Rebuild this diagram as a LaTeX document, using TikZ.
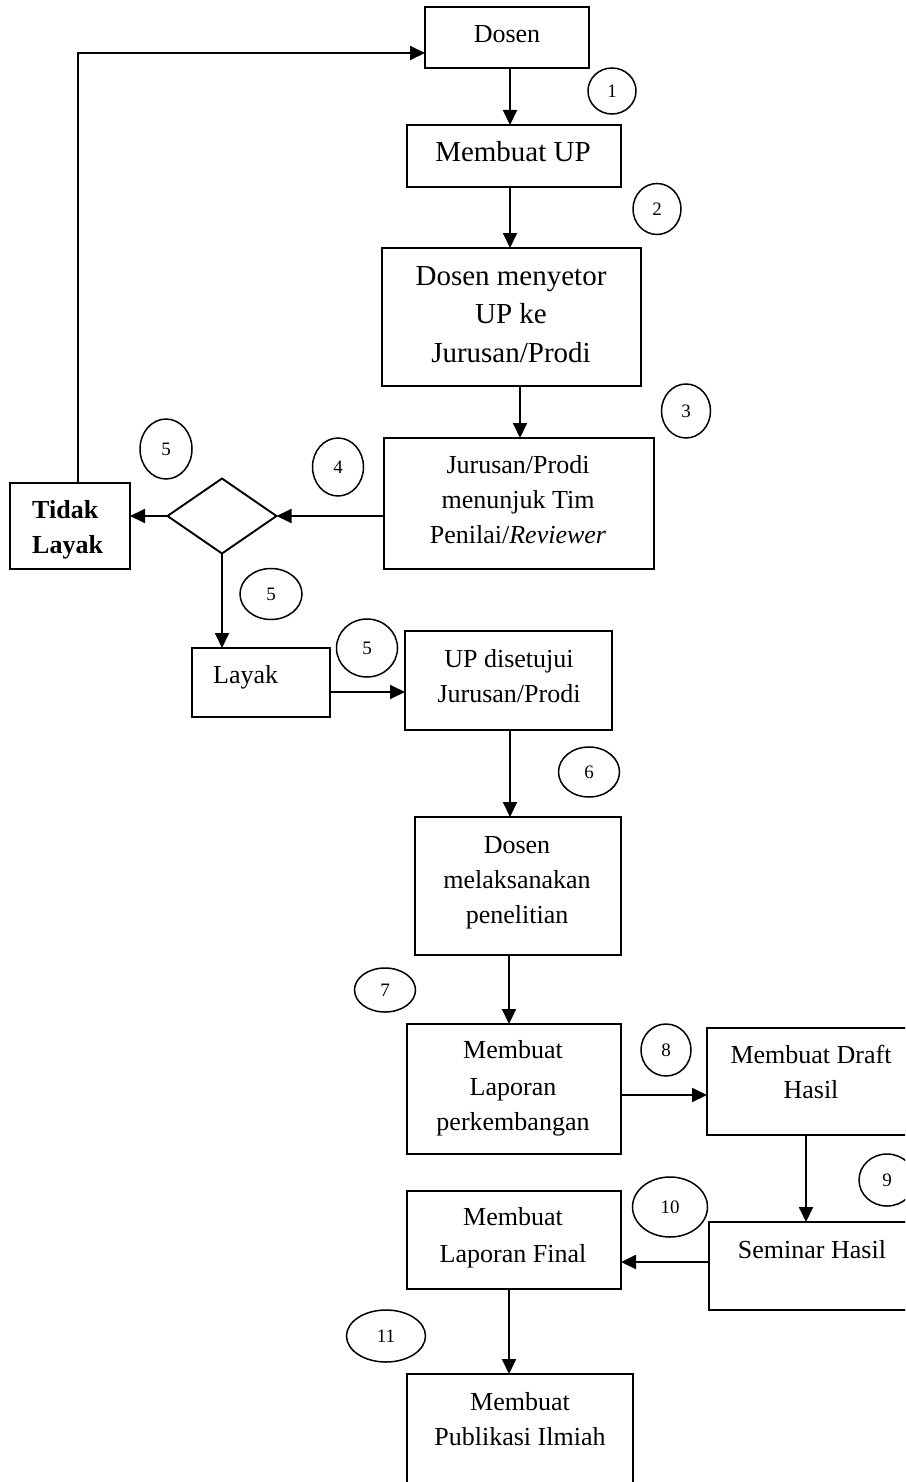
\documentclass[tikz,border=0pt]{standalone}
\usepackage{fontspec}
\setmainfont{Liberation Serif}
\usetikzlibrary{shapes.geometric,arrows.meta,calc}
\tikzset{
  box/.style={draw, line width=1.9pt, rectangle, inner sep=0pt, outer sep=0pt},
  dia/.style={draw, line width=1.9pt, diamond, inner sep=0pt, outer sep=0pt, minimum width=109pt, minimum height=75pt},
  num/.style={draw, line width=1.5pt, ellipse, inner sep=0pt, outer sep=0pt, font=\fontsize{19}{22}\selectfont},
  txt/.style={anchor=base, inner sep=0pt, font=\fontsize{26}{32}\selectfont},
  bigtxt/.style={anchor=base, inner sep=0pt, font=\fontsize{29}{35}\selectfont},
  arr/.style={line width=1.9pt, -{Triangle[length=15pt,width=14pt]}}
}
\begin{document}
\begin{tikzpicture}[x=1pt,y=-1pt]
\clip (0,0) rectangle (905,1482);
\fill[white] (0,0) rectangle (905,1482);

% boxes
\node[box, minimum width=164pt, minimum height=61pt] (dosen) at (507,37.5) {};
\node[box, minimum width=214pt, minimum height=62pt] (mup) at (514,156) {};
\node[box, minimum width=259pt, minimum height=138pt] (setor) at (511.5,317) {};
\node[box, minimum width=270pt, minimum height=131pt] (tunjuk) at (519,503.5) {};
\node[dia] (dec) at (222,516) {};
\node[box, minimum width=120pt, minimum height=86pt] (tidak) at (70,526) {};
\node[box, minimum width=138pt, minimum height=69pt] (layak) at (261,682.5) {};
\node[box, minimum width=207pt, minimum height=99pt] (setuju) at (508.5,680.5) {};
\node[box, minimum width=206pt, minimum height=138pt] (laksana) at (518,886) {};
\node[box, minimum width=214pt, minimum height=130pt] (lapor) at (514,1089) {};
\node[box, minimum width=208pt, minimum height=107pt] (draft) at (811,1081.5) {};
\node[box, minimum width=206pt, minimum height=88pt] (seminar) at (812,1266) {};
\node[box, minimum width=214pt, minimum height=98pt] (final) at (514,1240) {};
\node[box, minimum width=226pt, minimum height=126pt] (publik) at (520,1437) {};

% texts
\node[txt] (t1) at (507,43) {Dosen};
\node[bigtxt] (t2) at (513,162) {Membuat UP};
\node[bigtxt] (t3a) at (511,285) {Dosen menyetor};
\node[bigtxt] (t3b) at (511,323) {UP ke};
\node[bigtxt] (t3c) at (511,362) {Jurusan/Prodi};
\node[txt] (t4a) at (518,473) {Jurusan/Prodi};
\node[txt] (t4b) at (518,508) {menunjuk Tim};
\node[txt] (t4c) at (518,543) {Penilai/\textit{Reviewer}};
\node[txt, anchor=base west, font=\fontsize{26}{32}\selectfont\bfseries] (t5a) at (32,518) {Tidak};
\node[txt, anchor=base west, font=\fontsize{26}{32}\selectfont\bfseries] (t5b) at (32,553) {Layak};
\node[txt, anchor=base west] (t6) at (213,683) {Layak};
\node[txt] (t7a) at (509,667) {UP disetujui};
\node[txt] (t7b) at (509,702) {Jurusan/Prodi};
\node[txt] (t8a) at (517,853) {Dosen};
\node[txt] (t8b) at (517,888) {melaksanakan};
\node[txt] (t8c) at (517,923) {penelitian};
\node[txt] (t9a) at (513,1058) {Membuat};
\node[txt] (t9b) at (513,1095) {Laporan};
\node[txt] (t9c) at (513,1130) {perkembangan};
\node[txt] (t10a) at (811,1063) {Membuat Draft};
\node[txt] (t10b) at (811,1098) {Hasil};
\node[txt] (t11) at (812,1258) {Seminar Hasil};
\node[txt] (t12a) at (513,1225) {Membuat};
\node[txt] (t12b) at (513,1262) {Laporan Final};
\node[txt] (t13a) at (520,1410) {Membuat};
\node[txt] (t13b) at (520,1445) {Publikasi Ilmiah};

% number circles
\node[num, minimum width=48pt, minimum height=46pt] (c1) at (612,91) {1};
\node[num, minimum width=48pt, minimum height=51pt] (c2) at (657,209) {2};
\node[num, minimum width=49pt, minimum height=54pt] (c3) at (686,411) {3};
\node[num, minimum width=51pt, minimum height=58pt] (c4) at (338,467) {4};
\node[num, minimum width=52pt, minimum height=60pt] (c5a) at (166,449) {5};
\node[num, minimum width=62pt, minimum height=51pt] (c5b) at (271,594) {5};
\node[num, minimum width=61pt, minimum height=58pt] (c5c) at (367,648) {5};
\node[num, minimum width=61pt, minimum height=50pt] (c6) at (589,772) {6};
\node[num, minimum width=61pt, minimum height=44pt] (c7) at (385,990) {7};
\node[num, minimum width=50pt, minimum height=52pt] (c8) at (666,1050) {8};
\node[num, minimum width=56pt, minimum height=52pt] (c9) at (887,1180) {9};
\node[num, minimum width=75pt, minimum height=60pt] (c10) at (670,1207) {10};
\node[num, minimum width=79pt, minimum height=52pt] (c11) at (386,1336) {11};

% connector anchor points
\coordinate (lp) at (78,53);
\path ($(dosen.south)+(3,0)$) coordinate (a1);
\path ($(mup.south)+(-4,0)$) coordinate (a2);
\path ($(setor.south)+(8.5,0)$) coordinate (a3);
\path ($(layak.east)+(0,9.5)$) coordinate (a5);
\path ($(setuju.south)+(1.5,0)$) coordinate (a6);
\path ($(laksana.south)+(-9,0)$) coordinate (a7);
\path ($(lapor.east)+(0,6)$) coordinate (a8);
\path ($(draft.south)+(-5,0)$) coordinate (a9);
\path ($(seminar.west)+(0,-4)$) coordinate (a10);
\path ($(final.south)+(-5,0)$) coordinate (a11);

% connectors
\draw[arr] (lp |- tidak.north) -- (lp) -- (dosen.west |- lp);
\draw[arr] (a1) -- (a1 |- mup.north);
\draw[arr] (a2) -- (a2 |- setor.north);
\draw[arr] (a3) -- (a3 |- tunjuk.north);
\draw[arr] (tunjuk.west |- dec.east) -- (dec.east);
\draw[arr] (dec.west) -- (tidak.east |- dec.west);
\draw[arr] (dec.south) -- (dec.south |- layak.north);
\draw[arr] (a5) -- (a5 -| setuju.west);
\draw[arr] (a6) -- (a6 |- laksana.north);
\draw[arr] (a7) -- (a7 |- lapor.north);
\draw[arr] (a8) -- (a8 -| draft.west);
\draw[arr] (a9) -- (a9 |- seminar.north);
\draw[arr] (a10) -- (a10 -| final.east);
\draw[arr] (a11) -- (a11 |- publik.north);
\end{tikzpicture}
\end{document}
